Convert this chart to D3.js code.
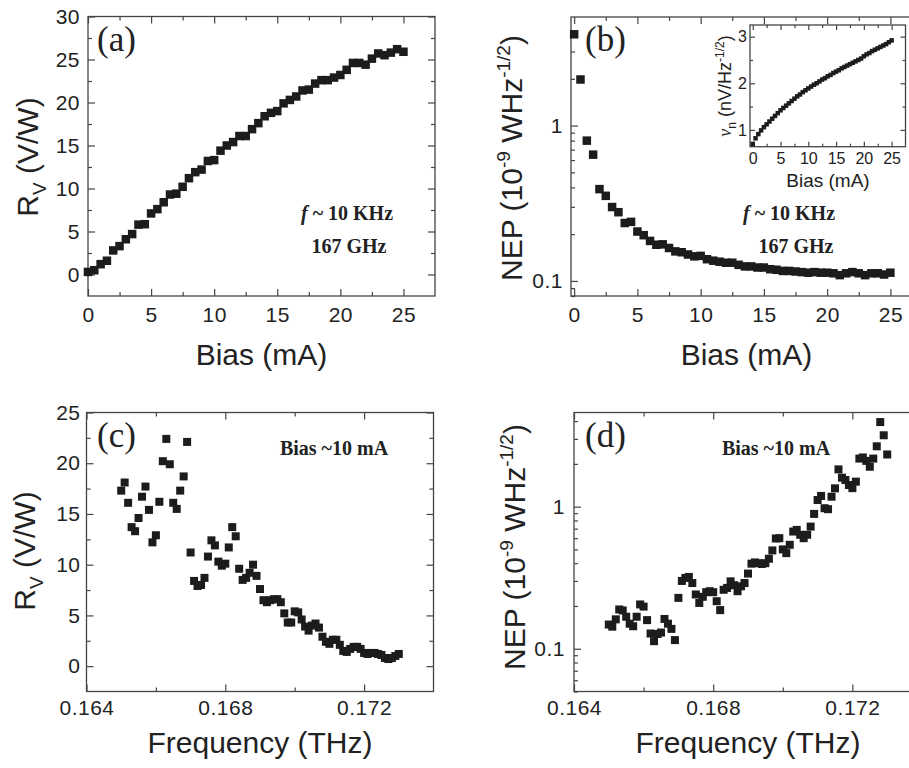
<!DOCTYPE html>
<html>
<head>
<meta charset="utf-8">
<script src="https://cdn.jsdelivr.net/npm/d3@7/dist/d3.min.js"></script>
<style>
    body { margin: 0; background: #fff; }
    svg { display: block; }
    .tick text { font-family: "Liberation Sans", Arial, sans-serif; fill: #222; }
    .tick line { stroke: #444; stroke-width: 1.2; }
    .title { font-family: "Liberation Sans", Arial, sans-serif; fill: #222; }
    .note { font-family: "Liberation Serif", "Times New Roman", serif; font-weight: bold; fill: #222; }
    .panel-label { font-family: "Liberation Serif", "Times New Roman", serif; fill: #222; }
</style>
</head>
<body>
<div id="chart"></div>
<script>

// ---- data ----
const biasMA = [0, 0.5, 1, 1.5, 2, 2.5, 3, 3.5, 4, 4.5, 5, 5.5, 6, 6.5, 7, 7.5, 8, 8.5, 9, 9.5,
    10, 10.5, 11, 11.5, 12, 12.5, 13, 13.5, 14, 14.5, 15, 15.5, 16, 16.5, 17, 17.5, 18, 18.5, 19, 19.5,
    20, 20.5, 21, 21.5, 22, 22.5, 23, 23.5, 24, 24.5, 25];

// (a) responsivity vs bias
const rvBias = [0.3, 0.5, 1.2, 1.6, 2.8, 3.3, 4.1, 4.7, 5.8, 5.85, 7.1, 7.6, 8.4, 9.3, 9.4, 10.2, 11.2, 11.9, 12.2, 13.2,
    13.3, 14.4, 15.0, 15.4, 16.1, 16.1, 16.9, 17.6, 18.4, 18.8, 19.0, 19.9, 20.3, 20.7, 21.4, 21.5, 22.2, 22.6, 22.6, 22.9,
    23.2, 23.8, 24.6, 24.6, 24.4, 25.1, 25.7, 25.5, 25.8, 26.2, 25.9];

// (b) NEP vs bias
const nepBias = [3.87, 1.98, 0.80, 0.65, 0.39, 0.353, 0.299, 0.277, 0.236, 0.240, 0.208, 0.197, 0.181, 0.171, 0.172, 0.163, 0.155, 0.153, 0.148, 0.144,
    0.145, 0.138, 0.135, 0.133, 0.131, 0.131, 0.127, 0.124, 0.124, 0.122, 0.122, 0.119, 0.118, 0.116, 0.116, 0.115, 0.114, 0.113, 0.114, 0.113,
    0.113, 0.112, 0.109, 0.112, 0.114, 0.112, 0.109, 0.112, 0.112, 0.110, 0.113];

// (b) inset: noise voltage vs bias
const noiseBias = [0.70, 0.82, 0.91, 0.99, 1.06, 1.12, 1.18, 1.24, 1.30, 1.36, 1.42, 1.47, 1.52, 1.57, 1.62, 1.67, 1.72, 1.76, 1.81, 1.85,
    1.89, 1.93, 1.97, 2.00, 2.04, 2.08, 2.11, 2.15, 2.18, 2.22, 2.25, 2.28, 2.32, 2.35, 2.38, 2.41, 2.44, 2.47, 2.50, 2.53,
    2.58, 2.62, 2.65, 2.69, 2.72, 2.75, 2.78, 2.81, 2.84, 2.88, 2.92];

const freqTHz = [0.1650, 0.1651, 0.1652, 0.1653, 0.1654, 0.1655, 0.1656, 0.1657, 0.1658, 0.1659,
    0.1660, 0.1661, 0.1662, 0.1663, 0.1664, 0.1665, 0.1666, 0.1667, 0.1668, 0.1669,
    0.1670, 0.1671, 0.1672, 0.1673, 0.1674, 0.1675, 0.1676, 0.1677, 0.1678, 0.1679,
    0.1680, 0.1681, 0.1682, 0.1683, 0.1684, 0.1685, 0.1686, 0.1687, 0.1688, 0.1689,
    0.1690, 0.1691, 0.1692, 0.1693, 0.1694, 0.1695, 0.1696, 0.1697, 0.1698, 0.1699,
    0.1700, 0.1701, 0.1702, 0.1703, 0.1704, 0.1705, 0.1706, 0.1707, 0.1708, 0.1709,
    0.1710, 0.1711, 0.1712, 0.1713, 0.1714, 0.1715, 0.1716, 0.1717, 0.1718, 0.1719,
    0.1720, 0.1721, 0.1722, 0.1723, 0.1724, 0.1725, 0.1726, 0.1727, 0.1728, 0.1729,
    0.1730];

// (c) responsivity vs frequency
const rvFreq = [17.3, 18.1, 16.1, 13.7, 13.3, 14.6, 16.7, 17.7, 15.4, 12.2,
    12.9, 16.2, 20.2, 22.4, 19.9, 16.1, 15.5, 17.3, 18.7, 22.1,
    11.2, 8.4, 7.9, 8.0, 8.7, 10.8, 12.4, 11.9, 10.3, 9.9,
    10.1, 11.7, 13.7, 12.8, 9.6, 8.5, 8.7, 9.2, 10.0, 8.9,
    7.6, 6.5, 6.3, 6.5, 6.6, 6.6, 6.3, 5.2, 4.3, 4.3,
    5.4, 5.3, 4.6, 3.9, 3.5, 4.0, 4.2, 3.8, 2.9, 2.4,
    2.2, 2.6, 2.6, 2.1, 1.5, 1.4, 1.7, 1.9, 1.9, 1.7,
    1.3, 1.2, 1.3, 1.3, 1.2, 1.1, 0.8, 0.7, 0.8, 1.0,
    1.2];

// (d) NEP vs frequency
const nepFreq = [0.148, 0.143, 0.161, 0.189, 0.186, 0.168, 0.150, 0.144, 0.168, 0.205,
    0.198, 0.159, 0.128, 0.113, 0.127, 0.130, 0.162, 0.150, 0.138, 0.115,
    0.228, 0.300, 0.315, 0.320, 0.290, 0.241, 0.210, 0.232, 0.250, 0.254,
    0.250, 0.216, 0.187, 0.260, 0.268, 0.298, 0.280, 0.254, 0.275, 0.290,
    0.338, 0.397, 0.405, 0.400, 0.395, 0.400, 0.430, 0.492, 0.597, 0.600,
    0.500, 0.471, 0.539, 0.668, 0.686, 0.634, 0.600, 0.634, 0.724, 0.889,
    1.114, 1.19, 0.975, 0.96, 1.175, 1.346, 1.83, 1.60, 1.54, 1.42,
    1.35, 1.50, 2.18, 2.22, 2.10, 1.91, 2.18, 2.66, 3.94, 3.18,
    2.33];

// ticks
const biasTicks = [0, 5, 10, 15, 20, 25];
const biasMinor = [2.5, 7.5, 12.5, 17.5, 22.5];
const rvTicksA = [0, 5, 10, 15, 20, 25, 30];
const rvMinorA = [2.5, 7.5, 12.5, 17.5, 22.5, 27.5];
const rvTicksC = [0, 5, 10, 15, 20, 25];
const rvMinorC = [2.5, 7.5, 12.5, 17.5, 22.5];
const freqTicks = [0.164, 0.168, 0.172];
const freqMinor = [0.166, 0.170];
const nepTicks = [0.1, 1];
const nepMinorB = [0.08, 0.09, 0.2, 0.3, 0.4, 0.5, 0.6, 0.7, 0.8, 0.9, 2, 3, 4];
const nepMinorD = [0.05, 0.06, 0.07, 0.08, 0.09, 0.2, 0.3, 0.4, 0.5, 0.6, 0.7, 0.8, 0.9, 2, 3, 4];
const noiseTicks = [1, 2, 3];
const noiseMinor = [1.5, 2.5];


/* * * * * * * * * * * * * *
*      Scatter panel          *
* * * * * * * * * * * * * */

class ScatterPanel {

    constructor(svg, cfg) {
        this.svg = svg;
        this.cfg = cfg;
        this.initVis();
    }

    initVis() {
        let vis = this;
        let c = vis.cfg;

        vis.width = c.right - c.left;
        vis.height = c.bottom - c.top;

        vis.g = vis.svg.append("g")
            .attr("transform", "translate(" + c.left + "," + c.top + ")");

        vis.x = d3.scaleLinear().domain(c.xDomain).range([0, vis.width]);
        vis.y = (c.logY ? d3.scaleLog() : d3.scaleLinear()).domain(c.yDomain).range([vis.height, 0]);

        let fs = c.tickFont;

        // bottom + top
        vis.g.append("g").attr("transform", "translate(0," + vis.height + ")")
            .call(d3.axisBottom(vis.x).tickValues(c.xTicks).tickSize(-c.major).tickPadding(c.xPad).tickFormat(c.xFmt));
        vis.g.append("g").attr("transform", "translate(0," + vis.height + ")")
            .call(d3.axisBottom(vis.x).tickValues(c.xMinor).tickSize(-c.minor).tickFormat(""));
        vis.g.append("g")
            .call(d3.axisTop(vis.x).tickValues(c.xTicks).tickSize(-c.major).tickFormat(""));
        vis.g.append("g")
            .call(d3.axisTop(vis.x).tickValues(c.xMinor).tickSize(-c.minor).tickFormat(""));

        // left + right
        vis.g.append("g")
            .call(d3.axisLeft(vis.y).tickValues(c.yTicks).tickSize(-c.major).tickPadding(c.yPad).tickFormat(c.yFmt));
        vis.g.append("g")
            .call(d3.axisLeft(vis.y).tickValues(c.yMinor).tickSize(-c.minor).tickFormat(""));
        vis.g.append("g").attr("transform", "translate(" + vis.width + ",0)")
            .call(d3.axisRight(vis.y).tickValues(c.yTicks).tickSize(-c.major).tickFormat(""));
        vis.g.append("g").attr("transform", "translate(" + vis.width + ",0)")
            .call(d3.axisRight(vis.y).tickValues(c.yMinor).tickSize(-c.minor).tickFormat(""));

        vis.g.selectAll(".domain").remove();
        vis.g.selectAll(".tick text").style("font-size", fs + "px").attr("letter-spacing", c.tickSpacing || 0);

        // frame
        vis.g.append("rect")
            .attr("width", vis.width)
            .attr("height", vis.height)
            .attr("fill", "none")
            .attr("stroke", "#444")
            .attr("stroke-width", 1.3);

        vis.updateVis();
    }

    updateVis() {
        let vis = this;
        let c = vis.cfg;
        let s = c.marker;

        vis.g.append("g").selectAll("rect.pt")
            .data(c.xs.map((d, i) => ({x: d, y: c.ys[i]})))
            .enter().append("rect")
            .attr("class", "pt")
            .attr("x", d => vis.x(d.x) - s / 2)
            .attr("y", d => vis.y(d.y) - s / 2)
            .attr("width", s)
            .attr("height", s)
            .attr("fill", "#1c1c1c");
    }
}


let svg = d3.select("#chart").append("svg")
    .attr("width", 909)
    .attr("height", 768);

let plain = d3.format("");

new ScatterPanel(svg, {
    left: 88, right: 435, top: 16.5, bottom: 296,
    xDomain: [0, 27.5], yDomain: [-2.5, 30],
    xTicks: biasTicks, xMinor: biasMinor, yTicks: rvTicksA, yMinor: rvMinorA,
    xFmt: plain, yFmt: plain, xPad: 11, yPad: 8,
    major: 7, minor: 4, tickFont: 21, tickSpacing: 0.5,
    xs: biasMA, ys: rvBias, marker: 8.5
});

new ScatterPanel(svg, {
    left: 571, right: 922, top: 17, bottom: 296,
    xDomain: [-0.25, 27.5], yDomain: [0.08, 5], logY: true,
    xTicks: biasTicks, xMinor: biasMinor, yTicks: nepTicks, yMinor: nepMinorB,
    xFmt: plain, yFmt: plain, xPad: 11, yPad: 8,
    major: 7, minor: 4, tickFont: 21, tickSpacing: 0.5,
    xs: biasMA, ys: nepBias, marker: 8.5
});

new ScatterPanel(svg, {
    left: 86.5, right: 433.5, top: 412.5, bottom: 691.5,
    xDomain: [0.164, 0.174], yDomain: [-2.5, 25],
    xTicks: freqTicks, xMinor: freqMinor, yTicks: rvTicksC, yMinor: rvMinorC,
    xFmt: d3.format(".3f"), yFmt: plain, xPad: 9, yPad: 6,
    major: 7, minor: 4, tickFont: 21, tickSpacing: 0.5,
    xs: freqTHz, ys: rvFreq, marker: 8
});

new ScatterPanel(svg, {
    left: 574, right: 922, top: 412.5, bottom: 691.5,
    xDomain: [0.164, 0.174], yDomain: [0.05, 4.6], logY: true,
    xTicks: freqTicks, xMinor: freqMinor.concat([0.174]), yTicks: nepTicks, yMinor: nepMinorD,
    xFmt: d3.format(".3f"), yFmt: plain, xPad: 9, yPad: 9,
    major: 7, minor: 4, tickFont: 21, tickSpacing: 0.5,
    xs: freqTHz, ys: nepFreq, marker: 8
});

// inset in (b)
new ScatterPanel(svg, {
    left: 750, right: 905.5, top: 25, bottom: 146.7,
    xDomain: [-0.5, 27.5], yDomain: [0.64, 3.25],
    xTicks: biasTicks, xMinor: biasMinor, yTicks: noiseTicks, yMinor: noiseMinor,
    xFmt: plain, yFmt: plain, xPad: 6, yPad: 3,
    major: 5, minor: 3, tickFont: 16, tickSpacing: 0,
    xs: biasMA, ys: noiseBias, marker: 4.5
});


// ---- axis titles ----
function xTitle(txt, x, y, size) {
    svg.append("text").attr("class", "title")
        .attr("x", x).attr("y", y)
        .attr("text-anchor", "middle")
        .style("font-size", size + "px")
        .text(txt);
}

xTitle("Bias (mA)", 261.5, 365, 30);
xTitle("Bias (mA)", 746.5, 365, 30);
xTitle("Frequency (THz)", 260, 753, 30);
xTitle("Frequency (THz)", 748, 753, 30);
xTitle("Bias (mA)", 828, 187, 19);

function rvTitle(x, y) {
    let t = svg.append("text").attr("class", "title")
        .attr("transform", "translate(" + x + "," + y + ") rotate(-90)")
        .attr("text-anchor", "middle")
        .style("font-size", "30px");
    t.append("tspan").text("R");
    t.append("tspan").attr("dy", 8).style("font-size", "19px").text("V");
    t.append("tspan").attr("dy", -8).text(" (V/W)");
}
rvTitle(38, 157);
rvTitle(35, 551);

function nepTitle(x, y) {
    let t = svg.append("text").attr("class", "title")
        .attr("transform", "translate(" + x + "," + y + ") rotate(-90)")
        .attr("text-anchor", "middle")
        .style("font-size", "30px");
    t.append("tspan").text("NEP (10");
    t.append("tspan").attr("dy", -12).style("font-size", "19px").text("-9");
    t.append("tspan").attr("dy", 12).text(" WHz");
    t.append("tspan").attr("dy", -12).style("font-size", "19px").text("-1/2");
    t.append("tspan").attr("dy", 12).text(")");
}
nepTitle(522, 158);
nepTitle(525, 547);

// inset y title
let vn = svg.append("text").attr("class", "title")
    .attr("transform", "translate(731,86) rotate(-90)")
    .attr("text-anchor", "middle")
    .style("font-size", "18px");
vn.append("tspan").style("font-family", "'Liberation Serif', serif").style("font-style", "italic").text("ν");
vn.append("tspan").attr("dy", 5).style("font-size", "12px").text("n");
vn.append("tspan").attr("dy", -5).text(" (nV/Hz");
vn.append("tspan").attr("dy", -7).style("font-size", "12px").text("-1/2");
vn.append("tspan").attr("dy", 7).text(")");


// ---- panel labels + notes ----
[["(a)", 97, 51], ["(b)", 585, 51], ["(c)", 97, 447], ["(d)", 585, 447]].forEach(d => {
    svg.append("text").attr("class", "panel-label")
        .attr("x", d[1]).attr("y", d[2])
        .style("font-size", "35px")
        .text(d[0]);
});

function freqNote(cx1, cx2) {
    let t = svg.append("text").attr("class", "note")
        .attr("x", cx1).attr("y", 220).attr("text-anchor", "middle")
        .style("font-size", "20px");
    t.append("tspan").style("font-style", "italic").text("f");
    t.append("tspan").text(" ~ 10 KHz");
    svg.append("text").attr("class", "note")
        .attr("x", cx2).attr("y", 253).attr("text-anchor", "middle")
        .style("font-size", "20px")
        .text("167 GHz");
}
freqNote(347, 349);
freqNote(789, 796);

svg.append("text").attr("class", "note")
    .attr("x", 334).attr("y", 455).attr("text-anchor", "middle")
    .style("font-size", "20px").text("Bias ~10 mA");
svg.append("text").attr("class", "note")
    .attr("x", 776).attr("y", 455).attr("text-anchor", "middle")
    .style("font-size", "20px").text("Bias ~10 mA");

</script>
</body>
</html>
